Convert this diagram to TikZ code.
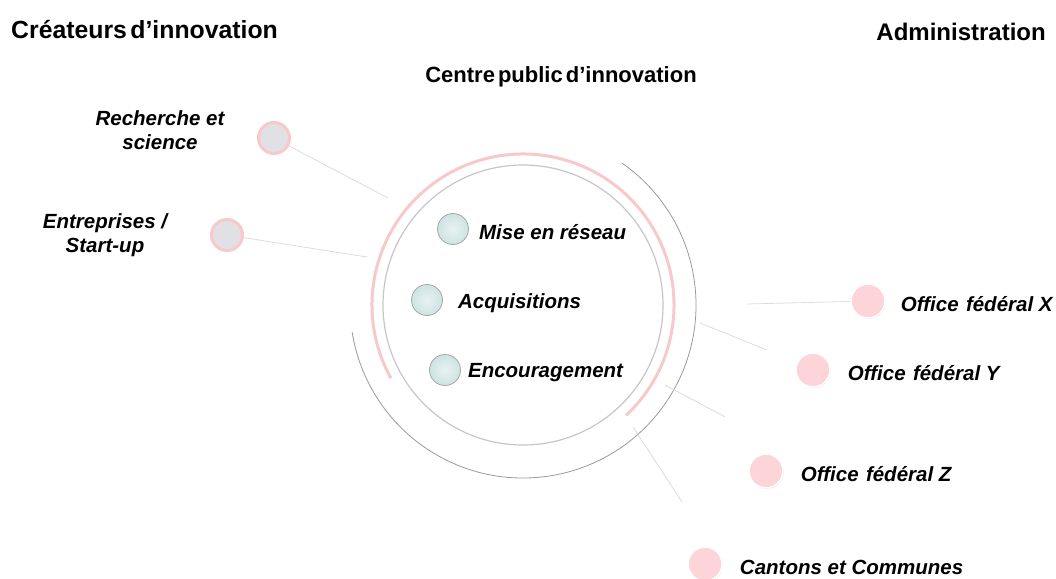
\documentclass[tikz,border=0pt]{standalone}
\usepackage{fontspec}
\setmainfont{Liberation Sans}
\usetikzlibrary{positioning,shadows}

\definecolor{ringpink}{HTML}{F8C9CB}
\definecolor{dotpink}{HTML}{FDD5D8}
\definecolor{dotgray}{HTML}{E1E1E5}
\definecolor{dotteal}{HTML}{CDE3E3}
\definecolor{linkgray}{HTML}{DCDCDC}

\newcommand{\titlefont}[1]{\bfseries\fontsize{#1}{27}\selectfont\spaceskip=0.14em\relax}
\newcommand{\office}[1]{Office\ \kern0.08em fédéral #1}

\begin{document}
\begin{tikzpicture}[x=1pt,y=-1pt,node distance=17pt,
  title/.style={font=\titlefont{#1},inner sep=0pt},
  label text/.style={font=\bfseries\itshape\fontsize{20.5}{24}\selectfont,inner sep=0pt,yshift=-3pt},
  actor node/.style={circle,fill=dotgray,draw=ringpink,line width=3pt,minimum size=31pt,inner sep=0pt},
  office node/.style={circle,fill=dotpink,draw=white,line width=1.5pt,minimum size=34pt,inner sep=0pt,
    drop shadow={shadow xshift=0.6pt,shadow yshift=-0.8pt,opacity=0.3}},
  task node/.style={circle,draw=gray!70,line width=0.8pt,minimum size=31pt,inner sep=0pt,
    inner color=white!55!dotteal,outer color=dotteal},
  link/.style={draw=linkgray,line width=0.8pt}]

  \useasboundingbox (0,0) rectangle (1056,578);

  % titles
  \node[title=24.8,anchor=west] (creators) at (11,30) {Créateurs d’innovation};
  \node[title=24,anchor=east] (admin) at (1046,32) {Administration};
  \node[title=22] (centre) at (561,77) {Centre public d’innovation};

  % rings of the centre
  \coordinate (hub) at (523,305);
  \draw[gray!45,line width=1.2pt] (hub) circle[radius=140];
  \draw[ringpink,line width=3pt] (hub) ++(-209:151) arc[start angle=-209,end angle=47,radius=151];
  \draw[gray!80,line width=0.8pt] (hub) ++(-55:173) arc[start angle=-55,end angle=171,radius=173];

  % tasks inside
  \node[task node] (mise) at (453,229) {};
  \node[task node] (acq) at (427,300) {};
  \node[task node] (enc) at (445,370) {};
  \node[label text,right=10pt of mise] {Mise en réseau};
  \node[label text,right=15pt of acq] {Acquisitions};
  \node[label text,right=7pt of enc] {Encouragement};

  % innovation creators
  \node[actor node] (rs) at (274,138) {};
  \node[actor node] (ent) at (227,235) {};
  \node[label text,align=center,yshift=3pt] at (160,130) {Recherche et\\science};
  \node[label text,align=center,yshift=3pt] at (105,235) {Entreprises /\\Start-up};

  % administration
  \node[office node] (offx) at (868,301) {};
  \node[office node] (offy) at (813,370) {};
  \node[office node] (offz) at (766,471) {};
  \node[office node] (cant) at (705,564) {};
  \node[label text,right=15pt of offx] {\office{X}};
  \node[label text,right=of offy] {\office{Y}};
  \node[label text,right=of offz] {\office{Z}};
  \node[label text,right=17pt of cant] {Cantons et Communes};

  % links to the centre
  \coordinate (rs end) at (388,198);
  \coordinate (ent end) at (367,257);
  \coordinate (offx end) at (747,304);
  \coordinate (y1) at (700,323);  \coordinate (y2) at (767,350);
  \coordinate (z1) at (665,385);  \coordinate (z2) at (725,417);
  \coordinate (c1) at (633,427);  \coordinate (c2) at (682,502);

  \path[link]
    (rs) edge (rs end)
    (ent) edge (ent end)
    (offx) edge (offx end)
    (y1) edge (y2)
    (z1) edge (z2)
    (c1) edge (c2);
\end{tikzpicture}
\end{document}
